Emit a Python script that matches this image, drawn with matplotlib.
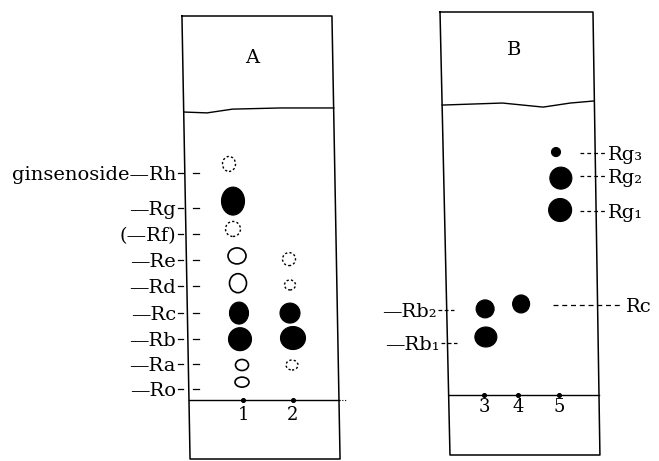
import matplotlib
matplotlib.use("Agg")
import matplotlib.pyplot as plt
from matplotlib.patches import Ellipse


# =========================
# DATI (Rf = distanza dall'origine / distanza del fronte)
# =========================

# Piastra A
lanes_A = [1, 2]
lane_x_A = [1, 2]
labels_A = ["ginsenoside—Rh", "—Rg", "(—Rf)", "—Re", "—Rd", "—Rc", "—Rb", "—Ra", "—Ro"]
label_rf_A = [0.783, 0.662, 0.572, 0.483, 0.393, 0.300, 0.210, 0.124, 0.038]

spot_lane_A = [0.72, 0.80, 0.80, 0.88, 0.90, 0.92, 0.94, 0.98, 0.98,
               1.92, 1.94, 1.94, 2.00, 1.98]
spot_rf_A = [0.814, 0.686, 0.590, 0.497, 0.403, 0.300, 0.210, 0.121, 0.062,
             0.486, 0.397, 0.300, 0.214, 0.121]
spot_kind_A = ["trace", "strong", "trace", "weak", "weak", "strong", "strong", "weak", "weak",
               "trace", "trace", "strong", "strong", "trace"]

front_x_A = [-0.015, 0.14, 0.31, 0.63, 0.985]
front_rf_A = [0.993, 0.990, 1.003, 1.007, 1.007]

# Piastra B
lanes_B = [3, 4, 5]
lane_x_B = [3.0, 3.91, 5.0]
labels_B_right = ["Rg₃", "Rg₂", "Rg₁"]
label_rf_B_right = [0.834, 0.755, 0.634]
labels_B_left = ["—Rb₂", "—Rb₁"]
label_rf_B_left = [0.293, 0.179]
label_Rc_B = "Rc"
label_rf_Rc_B = 0.310

spot_lane_B = [4.92, 5.05, 5.03, 3.03, 3.05, 3.99]
spot_rf_B = [0.838, 0.748, 0.638, 0.297, 0.200, 0.314]
spot_kind_B = ["strong"] * 6

front_x_B = [-0.019, 0.38, 0.65, 0.83, 0.984]
front_rf_B = [1.0, 1.007, 0.993, 1.007, 1.014]

# dimensioni delle macchie (pixel)
spot_w_A = [13, 23, 15, 18, 17, 19, 23, 13, 14, 13, 11, 20, 25, 12]
spot_h_A = [15, 28, 15, 16, 19, 22, 23, 11, 10, 13, 10, 20, 23, 10]
spot_w_B = [9, 22, 23, 18, 22, 17]
spot_h_B = [9, 22, 23, 18, 20, 18]


# =========================
# STILE
# =========================

FONT = "DejaVu Serif"
FS = 14
W, H = 659, 461


def draw_spots(ax, xs, rfs, kinds, ws, hs):
    p0 = ax.transData.transform((0, 0))
    p1 = ax.transData.transform((1, 1))
    ppx, ppy = p1[0] - p0[0], p1[1] - p0[1]
    for x, y, k, w, h in zip(xs, rfs, kinds, ws, hs):
        if k == "strong":
            e = Ellipse((x, y), w / ppx, h / ppy, facecolor="black", edgecolor="black", lw=0.8)
        elif k == "weak":
            e = Ellipse((x, y), w / ppx, h / ppy, facecolor="none", edgecolor="black", lw=1.2)
        else:
            e = Ellipse((x, y), w / ppx, h / ppy, facecolor="none", edgecolor="black",
                        lw=1.0, linestyle=(0, (1.6, 1.6)))
        ax.add_patch(e)


def setup_plate(ax, xlim, ylim, frame, base, front_x, front_rf, lanes, lane_x,
                title, title_pos, num_rf):
    ax.set_xlim(*xlim)
    ax.set_ylim(*ylim)
    ax.set_axis_off()
    # bordo della piastra (leggermente storto, come nel disegno)
    tl, bl, br, tr_ = frame
    ax.plot([tl, bl, br, tr_, tl], [1, 0, 0, 1, 1], color="black", lw=1.1,
            transform=ax.transAxes, clip_on=False)
    tr = ax.get_yaxis_transform()
    # fronte del solvente
    ax.plot(front_x, front_rf, color="black", lw=1.0, transform=tr, clip_on=False)
    # linea di partenza
    ax.plot(base, [0, 0], color="black", lw=1.0, transform=tr, clip_on=False)
    ax.scatter(lane_x, [0] * len(lane_x), s=7, color="black", zorder=3)
    for lx, n in zip(lane_x, lanes):
        ax.text(lx, num_rf, str(n), ha="center", va="center", fontsize=FS - 1, family=FONT)
    ax.text(title_pos[0], title_pos[1], title, transform=ax.transAxes,
            ha="center", va="center", fontsize=FS, family=FONT)


fig = plt.figure(figsize=(W / 100, H / 100), dpi=100)

# =========================
# PIASTRA A
# =========================

axA = fig.add_axes([186 / W, (H - 459) / H, 150 / W, (459 - 16) / H])
setup_plate(axA, (-0.14, 2.86), (-0.203, 1.324), (-0.027, 0.027, 1.027, 0.973),
            (0.02, 1.02), front_x_A, front_rf_A, lanes_A, lane_x_A, "A", (0.44, 0.905), -0.052)
trA = axA.get_yaxis_transform()
axA.plot([1.02, 1.07], [0, 0], color="black", lw=0.8, linestyle=(0, (1, 1.5)),
         transform=trA, clip_on=False)

for lab, y in zip(labels_A, label_rf_A):
    axA.text(-0.067, y, lab, transform=trA, ha="right", va="center_baseline",
             fontsize=FS, family=FONT)
    axA.plot([-0.053, -0.02], [y, y], color="black", lw=0.9, transform=trA, clip_on=False)
    axA.plot([0.047, 0.087], [y, y], color="black", lw=0.9, transform=trA, clip_on=False)

draw_spots(axA, spot_lane_A, spot_rf_A, spot_kind_A, spot_w_A, spot_h_A)

# =========================
# PIASTRA B
# =========================

axB = fig.add_axes([445 / W, (H - 455) / H, 151 / W, (455 - 12) / H])
setup_plate(axB, (1.96, 5.987), (-0.207, 1.321), (-0.033, 0.033, 1.026, 0.98),
            (0.024, 1.02), front_x_B, front_rf_B, lanes_B, lane_x_B, "B", (0.46, 0.914), -0.041)
trB = axB.get_yaxis_transform()

for lab, y in zip(labels_B_right, label_rf_B_right):
    axB.plot([0.894, 1.066], [y, y], color="black", lw=0.9, linestyle=(0, (3, 2.5)),
             transform=trB, clip_on=False)
    axB.text(1.08, y, lab, transform=trB, ha="left", va="center_baseline",
             fontsize=FS, family=FONT)

axB.plot([0.715, 1.18], [label_rf_Rc_B] * 2, color="black", lw=0.9,
         linestyle=(0, (4, 3)), transform=trB, clip_on=False)
axB.text(1.2, label_rf_Rc_B, label_Rc_B, transform=trB, ha="left", va="center_baseline",
         fontsize=FS, family=FONT)

for lab, y, xr in zip(labels_B_left, label_rf_B_left, [-0.053, -0.033]):
    axB.text(xr, y, lab, transform=trB, ha="right", va="center_baseline",
             fontsize=FS, family=FONT)
    axB.plot([xr + 0.008, xr + 0.11], [y, y], color="black", lw=0.9,
             linestyle=(0, (3, 2)), transform=trB, clip_on=False)

draw_spots(axB, spot_lane_B, spot_rf_B, spot_kind_B, spot_w_B, spot_h_B)

fig.savefig("out.png", dpi=100)
plt.close(fig)
